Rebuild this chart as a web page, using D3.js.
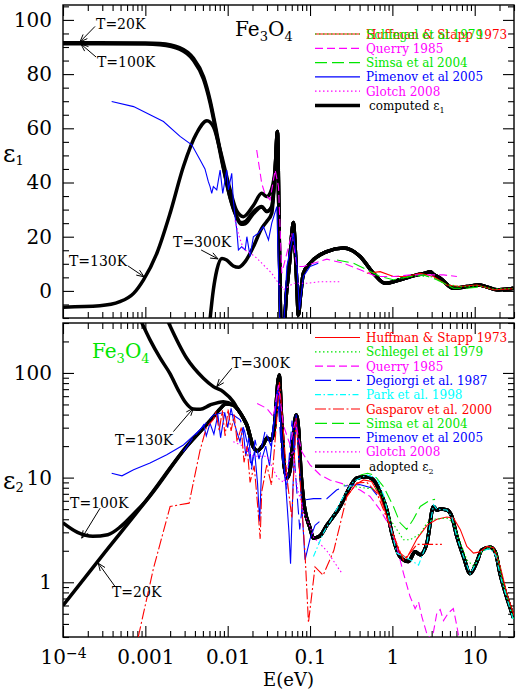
<!DOCTYPE html>
<html>
<head>
<meta charset="utf-8">
<title>Fe3O4 dielectric function</title>
<script src="https://cdn.jsdelivr.net/npm/d3@7/dist/d3.min.js"></script>
<style>
  body { margin: 0; background: #fff; }
  svg text { font-family: "DejaVu Serif", serif; }
</style>
</head>
<body>
<svg id="epsChart" width="518" height="690"></svg>
<script>
// tick values and labels
var energyTicks = [1e-4, 0.001, 0.01, 0.1, 1, 10];
var energyTickLabels = ["10^-4", "0.001", "0.01", "0.1", "1", "10"];
var eps1Ticks = [0, 20, 40, 60, 80, 100];
var eps2Ticks = [1, 10, 100];

// ---- top panel: eps1, points are [E (eV), eps1] ----
var e1T20 = [[1e-4, 91.6], [1e-3, 91.5], [1.5e-3, 91.3], [2.6e-3, 89.8], [3.8e-3, 86], [5.1e-3, 79], [6.1e-3, 70.5],
    [7.4e-3, 58], [8.9e-3, 45.5], [0.0107, 34.5], [0.0127, 27.5], [0.0145, 24.6], [0.0163, 24.8], [0.0205, 28.5],
    [0.0259, 31], [0.0298, 29.3], [0.0343, 31], [0.0377, 44.6]];
var e1T100 = [[1e-4, 91.2], [1e-3, 91.1], [1.5e-3, 90.8], [2.6e-3, 89.2], [3.8e-3, 85.2], [5.1e-3, 78], [6.1e-3, 69.5],
    [7.4e-3, 57], [8.9e-3, 45], [0.0107, 34.3], [0.0127, 27.8], [0.0145, 25.2], [0.0163, 25.6], [0.0205, 29.2],
    [0.0259, 31.1], [0.0298, 29.3], [0.0343, 31.1], [0.0377, 44.6]];
var e1T130 = [[1e-4, -6], [2.8e-4, -5.5], [4.9e-4, -4], [7.2e-4, -0.9], [9.5e-4, 4.1], [1.38e-3, 13.9], [2e-3, 28.7],
    [2.9e-3, 45.9], [4.2e-3, 58.2], [5.6e-3, 62.8], [6.7e-3, 60.6], [8.1e-3, 52], [0.0107, 37.3], [0.0129, 29.5],
    [0.0155, 27.4], [0.0205, 31.5], [0.0259, 36], [0.0298, 34.8], [0.0327, 36], [0.0377, 44.6]];
var e1T300 = [[5.9e-3, -15], [6.7e-3, 0.4], [7.4e-3, 7.8], [8.5e-3, 12], [9.7e-3, 11.4], [0.0117, 9.2], [0.0135, 8.7],
    [0.0163, 10.8], [0.0205, 16.3], [0.0259, 23.1], [0.0298, 25.6], [0.0343, 28.7], [0.0377, 44.6]];
var e1Common = [[0.0402, 58.8], [0.0418, 30], [0.0433, 0], [0.0445, -15], [0.0474, -15], [0.052, 0], [0.057, 12],
    [0.0605, 22], [0.0629, 25.2], [0.0655, 18], [0.069, 3], [0.0722, -8.9], [0.0765, -2], [0.0831, 6.5], [0.1, 10.2],
    [0.16, 14.5], [0.255, 15.8], [0.32, 15], [0.406, 12.7], [0.589, 6.5], [0.817, 2.8], [1.24, 4.1], [1.99, 5.9],
    [2.5, 6.5], [2.88, 7.1], [3.2, 6], [3.81, 4.7], [5.52, 1.0], [8.03, 1.6], [11.1, 2.2], [14, 1.5], [18.6, 0.4],
    [29.6, 1.0]];

var huffmanE1 = [[0.49, 6.5], [0.71, 7.1], [1.03, 5.3], [1.49, 5.3], [2.18, 6.5], [3.16, 5.3], [4.59, 2.2],
    [6.67, 1.6], [10.6, 2.2], [16.9, 0.4], [29, 0.8]];
var schlegelE1 = [[1.2, 4.5], [2, 5.6], [3, 5.2], [4.5, 2.4], [7, 1.5], [11, 1.9], [17, 0.7], [29, 0.9]];
var querryE1 = [[0.0225, 52], [0.0259, 39.7], [0.0282, 36], [0.0327, 33.6], [0.0377, 44.6], [0.0414, 38.5],
    [0.0454, 6.5], [0.0523, 13.9], [0.0601, 21.3], [0.0692, 9], [0.0831, 9], [0.11, 10.2], [0.16, 11.7],
    [0.255, 10.2], [0.406, 7.8], [0.649, 5.3], [1.03, 5.3], [1.64, 5.9], [2.63, 5.9], [4.18, 5.9], [6.08, 5.3]];
var simsaE1 = [[0.212, 11.4], [0.337, 10.2], [0.49, 7.8], [0.711, 5.3], [1.03, 4.1], [1.64, 5.3], [2.39, 5.9],
    [3.47, 4.1], [5.52, 1.0], [8.03, 1.0], [11.7, 1.4]];
var pimenovE1 = [[3.9e-4, 69.9], [7.2e-4, 68], [1.14e-3, 65], [1.66e-3, 62.5], [2.64e-3, 57], [3.66e-3, 53.9],
    [4.63e-3, 48.3], [5.3e-3, 45], [5.82e-3, 40.3], [6.11e-3, 38.5], [6.4e-3, 36], [6.7e-3, 38.5], [7.37e-3, 37.3],
    [8.09e-3, 44.6], [8.71e-3, 36], [9.75e-3, 44.6], [0.0102, 37.3], [0.0112, 43.4], [0.0117, 33.6], [0.0123, 27.4],
    [0.0129, 22.5], [0.0135, 15.1], [0.0148, 16.3], [0.0163, 15.1], [0.0171, 20], [0.0187, 12.7], [0.0205, 20],
    [0.0236, 21.3], [0.0272, 23.7], [0.0313, 18.8], [0.0343, 25], [0.0395, 31.1], [0.0433, -15], [0.0475, -15],
    [0.0523, 9], [0.0629, 21.3], [0.0692, 10.2], [0.0743, -7], [0.0831, 5.3], [0.1, 9], [0.126, 10.2]];
var glotchE1 = [[0.0123, 26], [0.0135, 21], [0.0155, 15.5], [0.0215, 12.7], [0.0272, 9.6], [0.0343, 6.5],
    [0.0414, 2.8], [0.0454, 1.6], [0.0474, 0.4], [0.0629, 2.8], [0.0914, 2.8], [0.133, 3.4], [0.232, 3.4]];

// ---- bottom panel: eps2, points are [E (eV), eps2] ----
var e2T20 = [[1e-4, 0.6], [3e-4, 1.8], [1e-3, 5.9], [3.2e-3, 20], [6.7e-3, 38], [8e-3, 45], [9.5e-3, 50.5],
    [0.0117, 49.4], [0.0135, 44]];
var e2T100 = [[1e-4, 3.7], [1.5e-4, 3.0], [2.3e-4, 2.75], [3.5e-4, 2.85], [5e-4, 3.4], [7e-4, 4.4], [1e-3, 5.9],
    [3.2e-3, 20], [6.7e-3, 38], [8e-3, 45], [9.5e-3, 50.5], [0.0117, 49.4], [0.0135, 44]];
var e2T130 = [[8.6e-4, 330], [1.14e-3, 207], [1.51e-3, 139], [2.0e-3, 98], [2.5e-3, 69], [3.03e-3, 53],
    [3.8e-3, 45.3], [4.63e-3, 45], [6.11e-3, 49.4], [8.87e-3, 53.2], [0.0117, 49.4], [0.0135, 44]];
var e2T300 = [[1.85e-3, 320], [3.18e-3, 138], [5.07e-3, 89], [6.7e-3, 74], [8.87e-3, 66], [0.0117, 53],
    [0.0135, 44]];
var e2Common = [[0.0155, 37], [0.0171, 31.8], [0.0205, 19.6], [0.0228, 18], [0.0269, 20.5], [0.0301, 23.9],
    [0.0337, 22.7], [0.0366, 28.6], [0.0422, 95.6], [0.0452, 35.6], [0.0484, 13.2], [0.0527, 9.9], [0.0573, 11.9],
    [0.0623, 22.9], [0.0678, 39.7], [0.0727, 28.6], [0.0779, 10.6], [0.0848, 5.5], [0.1, 3.3], [0.11, 2.64],
    [0.13, 2.75], [0.16, 3.5], [0.232, 5.3], [0.307, 8.2], [0.371, 9.9], [0.49, 10.2], [0.589, 9.5], [0.711, 7.3],
    [0.857, 4.9], [0.986, 2.95], [1.24, 1.76], [1.57, 1.58], [1.89, 1.96], [2.18, 1.83], [2.63, 2.37], [3.16, 5.3],
    [3.47, 4.9], [3.81, 5.0], [4.59, 4.9], [5.28, 4.24], [6.08, 2.73], [7.31, 1.76], [8.81, 1.21], [10.6, 1.56],
    [12.2, 2.04], [15.4, 2.16], [17.7, 1.96], [20.4, 1.19], [24.6, 0.71], [29.6, 0.46]];

var huffmanE2 = [[0.28, 6.6], [0.36, 8.6], [0.446, 9.5], [0.56, 9.2], [0.71, 6.6], [0.94, 3.4], [1.24, 1.9],
    [1.49, 1.7], [1.99, 2.6], [2.63, 3.5], [3.47, 4.0], [4.59, 4.2], [5.55, 4.1], [6.67, 3.2], [8.03, 2.2],
    [9.66, 1.9], [11.6, 1.95], [14.0, 2.2], [16.9, 2.14], [20.4, 1.42], [24.6, 0.78], [31, 0.45]];
var schlegelE2 = [[0.255, 8.5], [0.49, 7.9], [0.68, 7.8], [0.8, 6], [0.94, 4.0], [1.36, 2.55], [1.64, 2.55],
    [2.18, 2.9], [2.63, 3.7], [3.16, 4.0], [4.59, 4.1], [5.55, 3.7], [6.67, 2.4], [8.03, 1.64], [9.66, 1.42],
    [12.2, 1.96], [15.4, 2.2], [18.6, 1.9], [22, 1.0], [29.6, 0.45]];
var querryE2 = [[0.0228, 51], [0.0298, 45.9], [0.0359, 38.3], [0.0414, 76.8], [0.0474, 31.8], [0.0573, 20.5],
    [0.0659, 34.3], [0.0794, 17.7], [0.1, 13.2], [0.133, 10.6], [0.174, 9.5], [0.28, 8.5], [0.406, 7.6],
    [0.536, 6.6], [0.711, 4.9], [0.94, 3.4], [1.13, 2.2], [1.36, 1.23], [1.64, 0.73], [1.89, 0.56], [2.08, 0.65],
    [2.28, 0.47], [2.63, 0.32], [3.03, 0.28], [3.47, 0.51], [3.81, 0.55], [4.18, 0.43], [4.8, 0.51], [5.5, 0.56],
    [6.08, 0.38], [6.67, 0.25]];
var degiorgiE2 = [[2.9e-3, 17.7], [3.8e-3, 24], [4.6e-3, 28.5], [6.7e-3, 39.7], [8.9e-3, 41.8], [0.0117, 39.7],
    [0.0142, 35.6], [0.016, 28], [0.0176, 20], [0.0195, 12], [0.0215, 23], [0.024, 15], [0.0285, 28], [0.0335, 20],
    [0.04, 68], [0.045, 18], [0.052, 7.7], [0.0605, 35], [0.0675, 9.5], [0.075, 3.2], [0.082, 6.1], [0.11, 6.3],
    [0.16, 6.3], [0.21, 7.6], [0.255, 8.2]];
var parkE2 = [[0.11, 1.76], [0.145, 2.95], [0.194, 4.4], [0.255, 6.6], [0.337, 9.2], [0.49, 10.6], [0.649, 9.9],
    [0.8, 6.5], [0.986, 3.0], [1.13, 1.9], [1.64, 1.64], [2.08, 1.46], [2.63, 2.37], [3.16, 5.5], [3.47, 5.0],
    [4.59, 4.9], [5.28, 4.2], [6.08, 2.7], [7.31, 1.76], [8.81, 1.21], [10.6, 1.56], [12.2, 2.0], [15.4, 2.1],
    [18, 1.8], [21, 1.07], [29.6, 0.43]];
var gasparovE2 = [[8.2e-4, 0.3], [1.25e-3, 1.34], [2.0e-3, 5.3], [3.4e-3, 5.7], [4.6e-3, 18], [5.5e-3, 30],
    [6.7e-3, 36], [7.2e-3, 42], [7.9e-3, 28], [8.6e-3, 44], [9.3e-3, 25], [0.0101, 45], [0.011, 28], [0.012, 40],
    [0.013, 22], [0.0146, 30], [0.0158, 14], [0.0172, 20], [0.0187, 9], [0.021, 13], [0.0233, 5], [0.0248, 2.6],
    [0.0259, 7.3], [0.0298, 13.2], [0.034, 8.5], [0.039, 31.8], [0.0425, 82], [0.0455, 43], [0.052, 10.6],
    [0.0601, 4.1], [0.0678, 37], [0.075, 10.6], [0.0871, 1.83], [0.0957, 0.41], [0.115, 1.4], [0.1445, 1.17],
    [0.194, 2.0], [0.28, 6.6], [0.371, 8.9], [0.49, 9.0], [0.649, 7.1], [0.94, 3.4], [1.36, 1.63], [1.64, 1.9],
    [1.99, 2.3], [2.63, 2.3], [3.99, 2.3]];
var simsaE2 = [[0.41, 10.6], [0.5, 11], [0.6, 10.6], [0.78, 8.2], [1.03, 5.3], [1.24, 3.7], [1.49, 3.2],
    [1.8, 4.0], [2.18, 5.3], [2.88, 6.1], [3.3, 6.2]];
var pimenovE2 = [[3.9e-4, 11], [5.2e-4, 10.4], [7.2e-4, 11.9], [1.14e-3, 13.8], [1.82e-3, 16.5], [2.9e-3, 20.5],
    [3.6e-3, 24], [4.6e-3, 28.5], [5.1e-3, 32], [5.5e-3, 25], [6.1e-3, 33], [6.8e-3, 26], [7.6e-3, 40], [8.2e-3, 24],
    [9.2e-3, 42], [0.01, 30], [0.011, 46], [0.0118, 35], [0.0128, 28], [0.0141, 22], [0.0153, 30], [0.0166, 16],
    [0.018, 24], [0.0195, 13], [0.0212, 18], [0.023, 9], [0.0245, 3.8], [0.026, 15], [0.029, 20], [0.0322, 13],
    [0.036, 30], [0.0412, 75], [0.0445, 30], [0.05, 10], [0.0555, 3], [0.058, 1.5], [0.062, 8], [0.0678, 40],
    [0.0735, 15], [0.078, 6.8], [0.087, 1.64], [0.1, 2.6], [0.115, 3.5], [0.13, 3.8]];
var pimenovE2High = [[0.26, 8.3], [0.4, 8.6], [0.55, 8.0], [0.65, 6.8]];
var glotchE2 = [[0.0117, 22], [0.0155, 20], [0.0205, 16], [0.03, 16], [0.04, 10], [0.048, 9], [0.055, 14],
    [0.062, 18], [0.07, 8], [0.085, 4.5], [0.1, 3.4], [0.11, 2.7], [0.16, 2.0], [0.23, 1.3], [0.25, 1.2]];

(function epsChart() {
    var svg = d3.select("#epsChart"),
        left = 63,
        right = 514,
        top1 = 5, bot1 = 318,
        top2 = 323, bot2 = 637;

    var RED = "#ff0000", GREEN = "#00e600", MAGENTA = "#ff00ff", BLUE = "#0000ff", CYAN = "#00ffff";

    var x = d3.scaleLog().domain([1e-4, 30]).range([left, right]),
        y1 = d3.scaleLinear().domain([-10, 105.5]).range([bot1, top1]),
        y2 = d3.scaleLog().domain([0.3, 300]).range([bot2, top2]);

    var isDecade = function (d) {
        var l = Math.log10(d);
        return Math.abs(l - Math.round(l)) < 1e-6;
    };
    var xMinor = x.ticks().filter(function (d) { return !isDecade(d); }),
        y1Minor = d3.range(-10, 106, 5).filter(function (d) { return d % 20 !== 0; }),
        y2Minor = y2.ticks().filter(function (d) { return !isDecade(d); });

    var defs = svg.append("defs");
    defs.append("clipPath").attr("id", "clipTop").append("rect")
        .attr("x", left).attr("y", top1).attr("width", right - left).attr("height", bot1 - top1);
    defs.append("clipPath").attr("id", "clipBot").append("rect")
        .attr("x", left).attr("y", top2).attr("width", right - left).attr("height", bot2 - top2);

    function tickGroup(axis, tx, ty) {
        var g = svg.append("g")
            .attr("transform", "translate(" + tx + "," + ty + ")")
            .call(axis);
        g.select(".domain").remove();
        g.selectAll("line").attr("stroke-width", 1.1);
        return g;
    }

    function drawAxes(yScale, top, bottom, yMajor, yMinor, yLabel, xLabels) {
        // left ticks + labels
        var gl = tickGroup(d3.axisLeft(yScale).tickValues(yMajor).tickSize(-11).tickPadding(11)
            .tickFormat(yLabel), left, 0);
        gl.attr("font-size", 20);
        tickGroup(d3.axisLeft(yScale).tickValues(yMinor).tickSize(-6).tickFormat(""), left, 0);
        // right ticks
        tickGroup(d3.axisRight(yScale).tickValues(yMajor).tickSize(-11).tickFormat(""), right, 0);
        tickGroup(d3.axisRight(yScale).tickValues(yMinor).tickSize(-6).tickFormat(""), right, 0);
        // top ticks
        tickGroup(d3.axisTop(x).tickValues(energyTicks).tickSize(-11).tickFormat(""), 0, top);
        tickGroup(d3.axisTop(x).tickValues(xMinor).tickSize(-6).tickFormat(""), 0, top);
        // bottom ticks
        var gb = tickGroup(d3.axisBottom(x).tickValues(energyTicks).tickSize(-11).tickPadding(13)
            .tickFormat(xLabels ? function (d, i) { return energyTickLabels[i].split("^")[0]; } : ""), 0, bottom);
        gb.attr("font-size", 20);
        if (xLabels) {
            gb.selectAll("text").each(function (d, i) {
                var parts = energyTickLabels[i].split("^");
                if (parts.length > 1) {
                    d3.select(this).append("tspan")
                        .attr("dy", "-0.45em")
                        .attr("font-size", 14)
                        .text(parts[1].replace("-", "\u2212"));
                }
            });
        }
        tickGroup(d3.axisBottom(x).tickValues(xMinor).tickSize(-6).tickFormat(""), 0, bottom);

        svg.append("rect")
            .attr("x", left).attr("y", top)
            .attr("width", right - left).attr("height", bottom - top)
            .attr("fill", "none").attr("stroke", "black").attr("stroke-width", 1.4);
    }

    drawAxes(y1, top1, bot1, eps1Ticks, y1Minor, function (d) { return "" + d; }, false);
    drawAxes(y2, top2, bot2, eps2Ticks, y2Minor, function (d) { return "" + d; }, true);

    function lineFor(yScale, smooth) {
        return d3.line()
            .x(function (d) { return x(d[0]); })
            .y(function (d) { return yScale(d[1]); })
            .curve(smooth ? d3.curveMonotoneX : d3.curveLinear);
    }

    var styles = {
        huffman: { color: RED, dash: null },
        schlegel: { color: GREEN, dash: "1.5,2.5" },
        querry: { color: MAGENTA, dash: "8,4" },
        degiorgi: { color: BLUE, dash: "16,5" },
        park: { color: CYAN, dash: "6,2.5,1.5,2.5" },
        gasparov: { color: RED, dash: "11,2.5,2,2.5" },
        simsa: { color: GREEN, dash: "12,5" },
        pimenov: { color: BLUE, dash: null },
        glotch: { color: MAGENTA, dash: "1.5,2.5" }
    };

    // thick black model curves
    var topModels = [e1T20.concat(e1Common), e1T100.concat(e1Common), e1T130.concat(e1Common), e1T300.concat(e1Common)];
    var botModels = [e2T20.concat(e2Common), e2T100.concat(e2Common), e2T130.concat(e2Common), e2T300.concat(e2Common)];

    var gTop = svg.append("g").attr("clip-path", "url(#clipTop)"),
        gBot = svg.append("g").attr("clip-path", "url(#clipBot)");

    gTop.selectAll(".model")
        .data(topModels)
        .enter().append("path")
        .attr("class", "model")
        .attr("d", lineFor(y1, true))
        .attr("fill", "none").attr("stroke", "black").attr("stroke-width", 3.5)
        .attr("stroke-linejoin", "round");

    gBot.selectAll(".model")
        .data(botModels)
        .enter().append("path")
        .attr("class", "model")
        .attr("d", lineFor(y2, true))
        .attr("fill", "none").attr("stroke", "black").attr("stroke-width", 3.5)
        .attr("stroke-linejoin", "round");

    var topSeries = [
        { data: huffmanE1, s: styles.huffman },
        { data: schlegelE1, s: styles.schlegel },
        { data: querryE1, s: styles.querry },
        { data: simsaE1, s: styles.simsa },
        { data: pimenovE1, s: styles.pimenov },
        { data: glotchE1, s: styles.glotch }
    ];
    var botSeries = [
        { data: pimenovE2, s: styles.pimenov },
        { data: pimenovE2High, s: styles.pimenov },
        { data: degiorgiE2, s: styles.degiorgi },
        { data: gasparovE2, s: styles.gasparov },
        { data: glotchE2, s: styles.glotch },
        { data: querryE2, s: styles.querry },
        { data: huffmanE2, s: styles.huffman },
        { data: schlegelE2, s: styles.schlegel },
        { data: simsaE2, s: styles.simsa },
        { data: parkE2, s: styles.park }
    ];

    function drawSeries(g, list, yScale) {
        g.selectAll(".obs")
            .data(list)
            .enter().append("path")
            .attr("class", "obs")
            .attr("d", function (d) { return lineFor(yScale, false)(d.data); })
            .attr("fill", "none")
            .attr("stroke", function (d) { return d.s.color; })
            .attr("stroke-width", 1.1)
            .attr("stroke-dasharray", function (d) { return d.s.dash; });
    }
    drawSeries(gTop, topSeries, y1);
    drawSeries(gBot, botSeries, y2);

    // legends
    function legend(rows, y0) {
        rows.forEach(function (row, i) {
            var yy = y0 + i * 14.3;
            row.items.forEach(function (it) {
                svg.append("line")
                    .attr("x1", 315).attr("x2", 360).attr("y1", yy).attr("y2", yy)
                    .attr("stroke", it.s.color)
                    .attr("stroke-width", it.thick ? 3.5 : 1.2)
                    .attr("stroke-dasharray", it.s.dash);
            });
            row.items.forEach(function (it) {
                var t = svg.append("text")
                    .attr("x", it.thick ? 369 : 366).attr("y", yy + 4.5)
                    .attr("font-size", 12)
                    .attr("fill", it.s.color)
                    .text(it.name);
                if (it.sub) {
                    t.append("tspan").attr("font-size", 8).attr("dy", 3).text(it.sub);
                }
            });
        });
    }
    var black = { color: "black", dash: null };
    legend([
        { items: [{ s: styles.huffman, name: "Huffman & Stapp 1973" }, { s: styles.schlegel, name: "Schlegel et al 1979" }] },
        { items: [{ s: styles.querry, name: "Querry 1985" }] },
        { items: [{ s: styles.simsa, name: "Simsa et al 2004" }] },
        { items: [{ s: styles.pimenov, name: "Pimenov et al 2005" }] },
        { items: [{ s: styles.glotch, name: "Glotch 2008" }] },
        { items: [{ s: black, name: "computed \u03b5", sub: "1", thick: true }] }
    ], 34);
    legend([
        { items: [{ s: styles.huffman, name: "Huffman & Stapp 1973" }] },
        { items: [{ s: styles.schlegel, name: "Schlegel et al 1979" }] },
        { items: [{ s: styles.querry, name: "Querry 1985" }] },
        { items: [{ s: styles.degiorgi, name: "Degiorgi et al. 1987" }] },
        { items: [{ s: styles.park, name: "Park et al. 1998" }] },
        { items: [{ s: styles.gasparov, name: "Gasparov et al. 2000" }] },
        { items: [{ s: styles.simsa, name: "Simsa et al 2004" }] },
        { items: [{ s: styles.pimenov, name: "Pimenov et al 2005" }] },
        { items: [{ s: styles.glotch, name: "Glotch 2008" }] },
        { items: [{ s: black, name: "adopted \u03b5", sub: "2", thick: true }] }
    ], 337.5);

    // temperature labels with arrows (positions in data units)
    var topNotes = [
        { label: "T=20K", at: [2.52e-4, 96.7], tail: [2.45e-4, 97.6], tip: [1.61e-4, 91.9] },
        { label: "T=100K", at: [2.59e-4, 82.7], tail: [2.52e-4, 86.3], tip: [1.65e-4, 91.1] },
        { label: "T=130K", at: [1.18e-4, 9.2], tail: [6.16e-4, 9.2], tip: [9.65e-4, 5.2] },
        { label: "T=300K", at: [2.17e-3, 16.2], tail: [4.76e-3, 15.1], tip: [7.64e-3, 11.8] }
    ];
    var botNotes = [
        { label: "T=300K", at: [0.0112, 111.6], tail: [0.0112, 110.9], tip: [7.37e-3, 74] },
        { label: "T=130K", at: [4.29e-4, 20.5], tail: [2.19e-3, 27.5], tip: [3.83e-3, 46] },
        { label: "T=100K", at: [1.22e-4, 5.13], tail: [2.82e-4, 5.1], tip: [1.69e-4, 2.64] },
        { label: "T=20K", at: [3.94e-4, 0.726], tail: [4.29e-4, 0.91], tip: [2.68e-4, 1.52] }
    ];

    function notes(list, yScale) {
        list.forEach(function (n) {
            svg.append("text")
                .attr("x", x(n.at[0])).attr("y", yScale(n.at[1]))
                .attr("font-size", 14)
                .text(n.label);
            var x0 = x(n.tail[0]), yA = yScale(n.tail[1]),
                x1 = x(n.tip[0]), yB = yScale(n.tip[1]);
            var ang = Math.atan2(yB - yA, x1 - x0), len = 8, spread = 0.38;
            var p = d3.path();
            p.moveTo(x0, yA);
            p.lineTo(x1, yB);
            p.moveTo(x1 - len * Math.cos(ang - spread), yB - len * Math.sin(ang - spread));
            p.lineTo(x1, yB);
            p.lineTo(x1 - len * Math.cos(ang + spread), yB - len * Math.sin(ang + spread));
            svg.append("path")
                .attr("d", p.toString())
                .attr("fill", "none").attr("stroke", "black").attr("stroke-width", 1);
        });
    }
    notes(topNotes, y1);
    notes(botNotes, y2);

    // formula labels
    function formula(xE, yv, yScale, color) {
        var t = svg.append("text")
            .attr("x", x(xE)).attr("y", yScale(yv))
            .attr("font-size", 20)
            .attr("fill", color);
        t.append("tspan").text("Fe");
        t.append("tspan").attr("font-size", 13).attr("dy", 5).text("3");
        t.append("tspan").attr("dy", -5).text("O");
        t.append("tspan").attr("font-size", 13).attr("dy", 5).text("4");
    }
    formula(0.0123, 94.1, y1, "black");
    formula(2.25e-4, 139, y2, GREEN);

    // axis titles
    var e1 = svg.append("text").attr("x", 3).attr("y", 162).attr("font-size", 24).text("\u03b5");
    e1.append("tspan").attr("font-size", 13).attr("dy", 3).text("1");
    var e2 = svg.append("text").attr("x", 3).attr("y", 489).attr("font-size", 24).text("\u03b5");
    e2.append("tspan").attr("font-size", 13).attr("dy", 3).text("2");

    svg.append("text")
        .attr("x", (left + right) / 2)
        .attr("y", 686)
        .attr("text-anchor", "middle")
        .attr("font-size", 18)
        .text("E(eV)");
}());
</script>
</body>
</html>
